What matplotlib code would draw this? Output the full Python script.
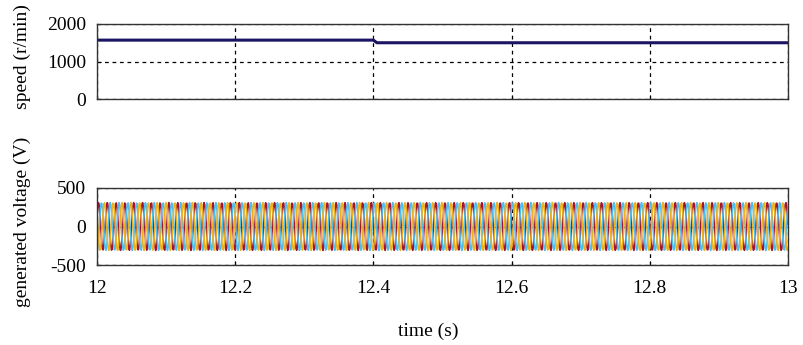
import numpy as np
import matplotlib.pyplot as plt

# speed trace (r/min), step at 12.4 s
speed_times = [12.0, 12.4, 12.405, 13.0]
speed_values = [1570, 1570, 1500, 1500]

# generated voltage: three phases, amplitude and frequency
phase_names = ['a', 'b', 'c']
phase_shifts_deg = [0, -120, 120]
phase_colors = ['#A2142F', '#4DBEEE', '#EDB120']
voltage_amplitude = 310
pole_pairs = 3
sample_step = 0.001

x_ticks = [12, 12.2, 12.4, 12.6, 12.8, 13]
x_tick_labels = ['12', '12.2', '12.4', '12.6', '12.8', '13']

plt.rcParams['font.family'] = ['Liberation Serif', 'DejaVu Serif']
plt.rcParams['font.size'] = 14

fig = plt.figure(figsize=(8.04, 3.45), dpi=100)
W, H = 804, 345
ax1 = fig.add_axes([97 / W, 1 - 99 / H, (788 - 97) / W, 75 / H])
ax2 = fig.add_axes([97 / W, 1 - 265 / H, (788 - 97) / W, 77 / H])

# speed
ax1.plot(speed_times, speed_values, color='#1b1464', linewidth=2.2)
ax1.set_xlim(12, 13)
ax1.set_ylim(0, 2000)
ax1.set_yticks([0, 1000, 2000])
ax1.set_xticks(x_ticks)
ax1.set_xticklabels([])
ax1.set_ylabel('speed (r/min)')
ax1.yaxis.set_label_coords(-0.0955, 0.57)

# voltage, electrical angle integrated from the speed trace
t = np.arange(12.0, 13.0 + sample_step, sample_step)
speed = np.interp(t, speed_times, speed_values)
freq = pole_pairs * speed / 60.0
theta = 2 * np.pi * np.cumsum(freq) * sample_step
for name, shift, col in zip(phase_names, phase_shifts_deg, phase_colors):
    v = voltage_amplitude * np.sin(theta + np.deg2rad(shift))
    ax2.plot(t, v, color=col, linewidth=1.2)
ax2.set_xlim(12, 13)
ax2.set_ylim(-500, 500)
ax2.set_yticks([-500, 0, 500])
ax2.set_yticklabels(['-500', '0', '500'])
ax2.set_xticks(x_ticks)
ax2.set_xticklabels(x_tick_labels)
ax2.set_ylabel('generated voltage (V)')
ax2.yaxis.set_label_coords(-0.0955, 0.565)
ax2.set_xlabel('time (s)')
ax2.xaxis.set_label_coords(0.479, -0.75)

for ax in (ax1, ax2):
    ax.grid(True, color='black', linestyle=(0, (3, 3)), linewidth=0.9)
    ax.tick_params(direction='in', length=3, pad=8)
    for s in ax.spines.values():
        s.set_color('#333333')
        s.set_linewidth(1.0)
ax2.tick_params(axis='x', pad=11)

fig.savefig('out.png', dpi=100)
